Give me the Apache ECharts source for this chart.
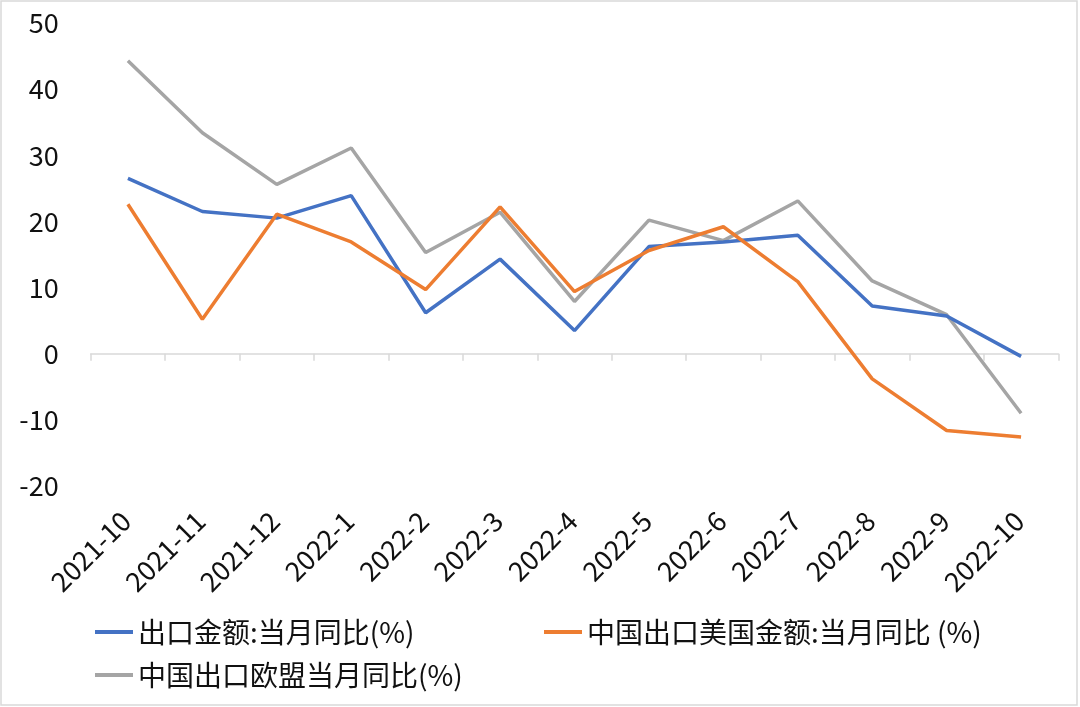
<!DOCTYPE html>
<html>
<head>
<meta charset="utf-8">
<script src="https://cdn.jsdelivr.net/npm/echarts@6/dist/echarts.min.js"></script>
<style>html,body{margin:0;padding:0;background:#fff}#c{width:1080px;height:707px}</style>
</head>
<body>
<div id="c"></div>
<script>
var categories = ['2021-10','2021-11','2021-12','2022-1','2022-2','2022-3','2022-4','2022-5','2022-6','2022-7','2022-8','2022-9','2022-10'];
var seriesNames = ['出口金额:当月同比(%)','中国出口美国金额:当月同比 (%)','中国出口欧盟当月同比(%)'];
var exportTotal = [26.5, 21.5, 20.5, 23.9, 6.2, 14.3, 3.5, 16.2, 16.9, 17.9, 7.2, 5.7, -0.4];
var exportUS = [22.6, 5.2, 21.1, 16.9, 9.7, 22.2, 9.4, 15.6, 19.2, 10.9, -3.8, -11.6, -12.6];
var exportEU = [44.3, 33.4, 25.6, 31.1, 15.3, 21.4, 7.9, 20.2, 17.1, 23.1, 11.0, 5.9, -9.0];
var yTicks = {min: -20, max: 50, interval: 10};

var colors = ['#4472C4', '#ED7D31', '#A5A5A5'];
var font = '"Noto Sans CJK SC", "Noto Sans", sans-serif';
var chart = echarts.init(document.getElementById('c'), null, {renderer: 'canvas'});
function legendFor(i, left, top) {
  return {
    data: [seriesNames[i]], left: left, top: top, icon: 'rect',
    itemWidth: 38, itemHeight: 4, itemGap: 0, padding: 0,
    textStyle: {fontFamily: font, fontSize: 28, color: '#111'}
  };
}
chart.setOption({
  animation: false,
  backgroundColor: '#fff',
  color: colors,
  graphic: [{
    type: 'rect', shape: {x: 1, y: 1, width: 1076, height: 704},
    style: {fill: 'none', stroke: '#d9d9d9', lineWidth: 1.5}, silent: true, z: -1
  }],
  legend: [legendFor(0, 95, 618), legendFor(1, 544, 618), legendFor(2, 95, 661)],
  grid: {left: 90.7, right: 21.7, top: 23, bottom: 221, containLabel: false},
  xAxis: [{
    type: 'category', data: categories, boundaryGap: true,
    axisLine: {onZero: true, lineStyle: {color: '#d9d9d9', width: 1.5}},
    axisTick: {show: true, length: 7, lineStyle: {color: '#d9d9d9', width: 1.5}},
    axisLabel: {show: false}, splitLine: {show: false}
  }, {
    type: 'category', data: categories, boundaryGap: true, position: 'bottom',
    axisLine: {show: false, onZero: false}, axisTick: {show: false},
    axisLabel: {show: true, rotate: 45, margin: 28, padding: [0, 3, 0, 0], fontFamily: font, fontSize: 27, color: '#111', interval: 0},
    splitLine: {show: false}
  }],
  yAxis: {
    type: 'value', min: yTicks.min, max: yTicks.max, interval: yTicks.interval,
    axisLine: {show: false}, axisTick: {show: false}, splitLine: {show: false},
    axisLabel: {margin: 32, fontFamily: font, fontSize: 27, color: '#111'}
  },
  series: [
    {name: seriesNames[0], type: 'line', data: exportTotal, xAxisIndex: 0, symbol: 'none', lineStyle: {width: 3.5, color: colors[0]}, z: 3},
    {name: seriesNames[1], type: 'line', data: exportUS, xAxisIndex: 0, symbol: 'none', lineStyle: {width: 3.5, color: colors[1]}, z: 4},
    {name: seriesNames[2], type: 'line', data: exportEU, xAxisIndex: 0, symbol: 'none', lineStyle: {width: 3.5, color: colors[2]}, z: 2}
  ]
});
</script>
</body>
</html>
